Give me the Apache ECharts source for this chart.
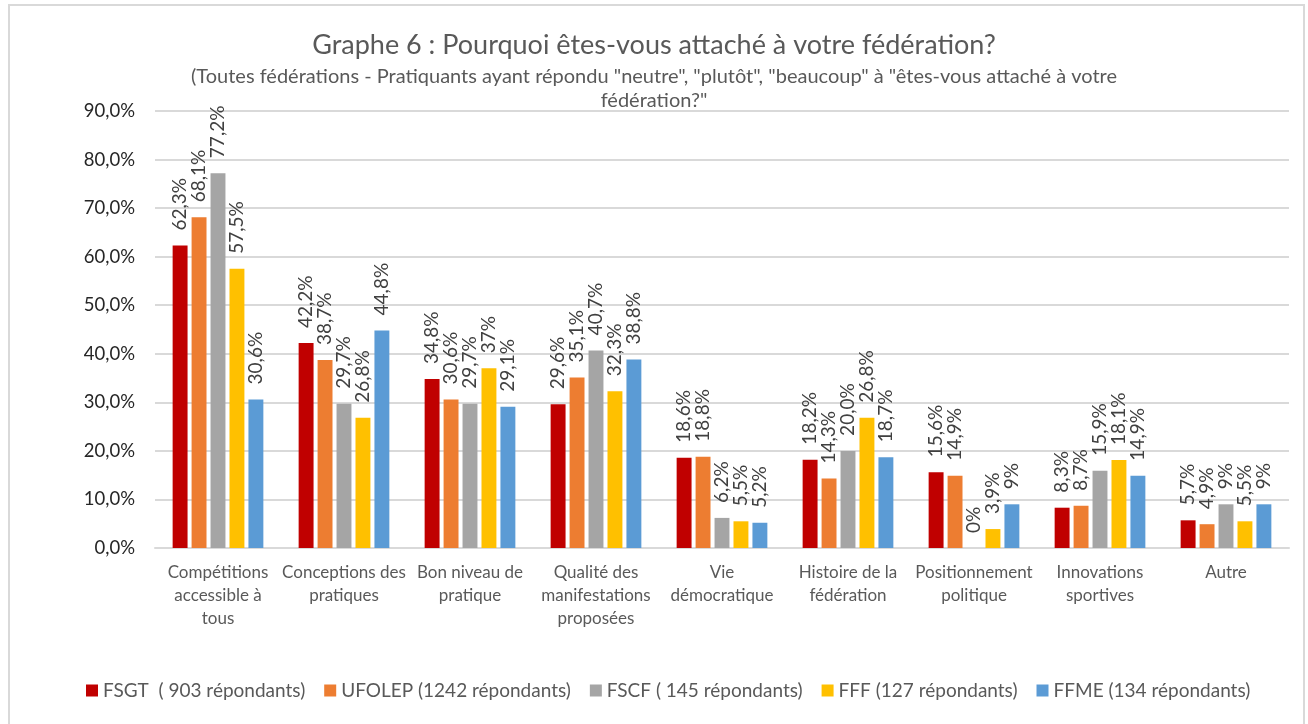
<!DOCTYPE html>
<html>
<head>
<meta charset="utf-8">
<script src="https://cdn.jsdelivr.net/npm/echarts@6/dist/echarts.min.js"></script>
<style>
  html, body { margin: 0; padding: 0; background: #fff; }
  #chart { width: 1308px; height: 724px; }
</style>
</head>
<body>
<div id="chart"></div>
<script>
  const categories = [
    'Compétitions\naccessible à\ntous',
    'Conceptions des\npratiques',
    'Bon niveau de\npratique',
    'Qualité des\nmanifestations\nproposées',
    'Vie\ndémocratique',
    'Histoire de la\nfédération',
    'Positionnement\npolitique',
    'Innovations\nsportives',
    'Autre'
  ];
  const seriesNames = [
    'FSGT  ( 903 répondants)',
    'UFOLEP (1242 répondants)',
    'FSCF ( 145 répondants)',
    'FFF (127 répondants)',
    'FFME (134 répondants)'
  ];
  const fsgt = [62.3, 42.2, 34.8, 29.6, 18.6, 18.2, 15.6, 8.3, 5.7];
  const ufolep = [68.1, 38.7, 30.6, 35.1, 18.8, 14.3, 14.9, 8.7, 4.9];
  const fscf = [77.2, 29.7, 29.7, 40.7, 6.2, 20.0, 0, 15.9, 9];
  const fff = [57.5, 26.8, 37, 32.3, 5.5, 26.8, 3.9, 18.1, 5.5];
  const ffme = [30.6, 44.8, 29.1, 38.8, 5.2, 18.7, 9, 14.9, 9];
  // label texts as printed on the chart (not all have one decimal)
  const fsgtLabels = ['62,3%', '42,2%', '34,8%', '29,6%', '18,6%', '18,2%', '15,6%', '8,3%', '5,7%'];
  const ufolepLabels = ['68,1%', '38,7%', '30,6%', '35,1%', '18,8%', '14,3%', '14,9%', '8,7%', '4,9%'];
  const fscfLabels = ['77,2%', '29,7%', '29,7%', '40,7%', '6,2%', '20,0%', '0%', '15,9%', '9%'];
  const fffLabels = ['57,5%', '26,8%', '37%', '32,3%', '5,5%', '26,8%', '3,9%', '18,1%', '5,5%'];
  const ffmeLabels = ['30,6%', '44,8%', '29,1%', '38,8%', '5,2%', '18,7%', '9%', '14,9%', '9%'];
  const colors = ['#C00000', '#ED7D31', '#A5A5A5', '#FFC000', '#5B9BD5'];

  const values = [fsgt, ufolep, fscf, fff, ffme];
  const labels = [fsgtLabels, ufolepLabels, fscfLabels, fffLabels, ffmeLabels];
  const font = 'Lato, "Open Sans", sans-serif';

  const chart = echarts.init(document.getElementById('chart'));
  chart.setOption({
    animation: false,
    color: colors,
    textStyle: { fontFamily: font },
    graphic: [{
      type: 'rect',
      shape: { x: 9, y: 5, width: 1295, height: 730 },
      style: { fill: 'none', stroke: '#d9d9d9', lineWidth: 2 },
      silent: true
    }],
    title: {
      text: 'Graphe 6 : Pourquoi êtes-vous attaché à votre fédération?',
      subtext: '(Toutes fédérations - Pratiquants ayant répondu "neutre", "plutôt", "beaucoup" à "êtes-vous attaché à votre\nfédération?"',
      left: 'center',
      top: 27,
      itemGap: 6,
      textStyle: { fontFamily: font, fontSize: 27, fontWeight: 'normal', color: '#595959' },
      subtextStyle: { fontFamily: font, fontSize: 20, color: '#595959', lineHeight: 24, align: 'center' }
    },
    legend: {
      bottom: 19,
      left: 81,
      itemWidth: 12,
      itemHeight: 12,
      itemGap: 19,
      icon: 'rect',
      textStyle: { fontFamily: font, fontSize: 19, color: '#595959' },
      data: seriesNames
    },
    grid: { left: 155, right: 19, top: 111, bottom: 176 },
    xAxis: {
      type: 'category',
      data: categories,
      axisLine: { lineStyle: { color: '#d9d9d9', width: 2 } },
      axisTick: { show: false },
      axisLabel: { interval: 0, fontSize: 17, color: '#595959', lineHeight: 23, margin: 13 }
    },
    yAxis: {
      type: 'value',
      min: 0,
      max: 90,
      interval: 10,
      axisLine: { show: false },
      axisTick: { show: false },
      splitLine: { lineStyle: { color: '#d9d9d9', width: 2 } },
      axisLabel: {
        fontSize: 18.5,
        color: '#262626',
        margin: 20,
        formatter: v => v.toFixed(1).replace('.', ',') + '%'
      }
    },
    series: seriesNames.map((name, i) => ({
      name: name,
      type: 'bar',
      data: values[i],
      barGap: '27%',
      barCategoryGap: '28%',
      itemStyle: { color: colors[i] },
      label: {
        show: true,
        position: 'top',
        rotate: 90,
        align: 'left',
        verticalAlign: 'middle',
        distance: 15,
        fontSize: 19,
        color: '#404040',
        formatter: p => labels[i][p.dataIndex]
      }
    }))
  });
</script>
</body>
</html>
